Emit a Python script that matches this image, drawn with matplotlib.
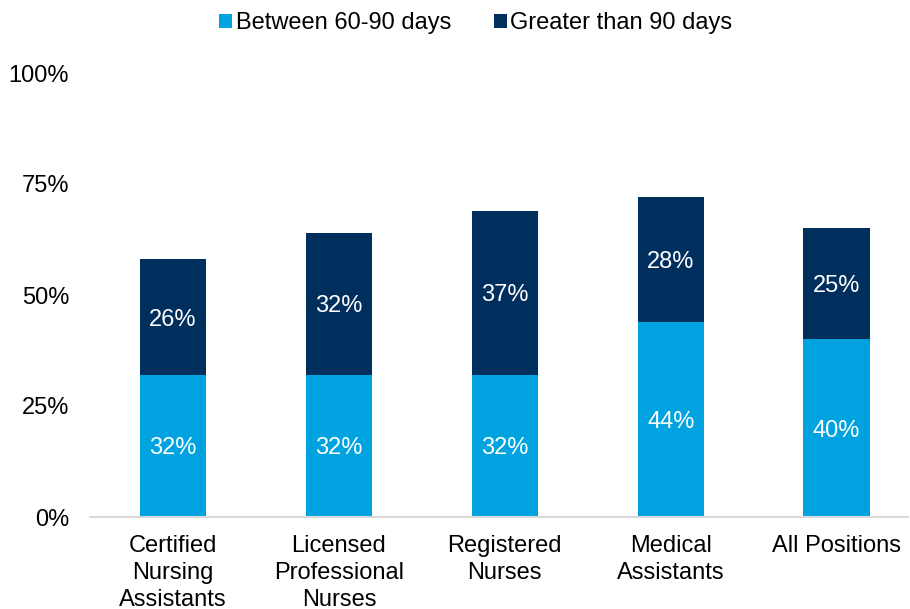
import matplotlib.pyplot as plt
import numpy as np

plt.rcParams['font.family'] = ['Liberation Sans', 'DejaVu Sans']

# data
categories = ["Certified\nNursing\nAssistants", "Licensed\nProfessional\nNurses",
              "Registered\nNurses", "Medical\nAssistants", "All Positions"]
between_60_90 = [32, 32, 32, 44, 40]
greater_90 = [26, 32, 37, 28, 25]
series_names = ["Between 60-90 days", "Greater than 90 days"]
yticks = [0, 25, 50, 75, 100]

light = '#00A3E0'
dark = '#002E5D'
fs = 17

fig = plt.figure(figsize=(9.1, 6.09), dpi=100)
ax = fig.add_axes([90/910, 92/609, 818/910, 444/609])

x = np.arange(len(categories))
w = 0.4
b1 = ax.bar(x, between_60_90, w, color=light, label=series_names[0])
b2 = ax.bar(x, greater_90, w, bottom=between_60_90, color=dark, label=series_names[1])

for i in range(len(x)):
    ax.text(x[i], between_60_90[i] / 2, f"{between_60_90[i]}%", ha='center',
            va='center_baseline', color='white', fontsize=fs)
    ax.text(x[i], between_60_90[i] + greater_90[i] / 2, f"{greater_90[i]}%", ha='center',
            va='center_baseline', color='white', fontsize=fs)

ax.set_xlim(-0.5, 4.43)
ax.set_ylim(0, 100)
ax.set_yticks(yticks)
ax.set_yticklabels([f"{t}%" for t in yticks], fontsize=fs)
ax.set_xticks(x)
ax.set_xticklabels(categories, fontsize=fs, linespacing=1.28)
ax.tick_params(axis='y', length=0, pad=15)
ax.tick_params(axis='x', length=0, pad=13)

for s in ['top', 'right', 'left']:
    ax.spines[s].set_visible(False)
ax.spines['bottom'].set_color('#d9d9d9')
ax.spines['bottom'].set_linewidth(1.5)
ax.spines['bottom'].set_clip_on(False)

fig.legend(handles=[b1, b2], loc='center', bbox_to_anchor=(476/910, 1 - 23/609), ncol=2,
           frameon=False, fontsize=fs, handlelength=0.55, handleheight=0.55,
           handletextpad=0.15, columnspacing=1.8)

fig.savefig('out.png', dpi=100)
